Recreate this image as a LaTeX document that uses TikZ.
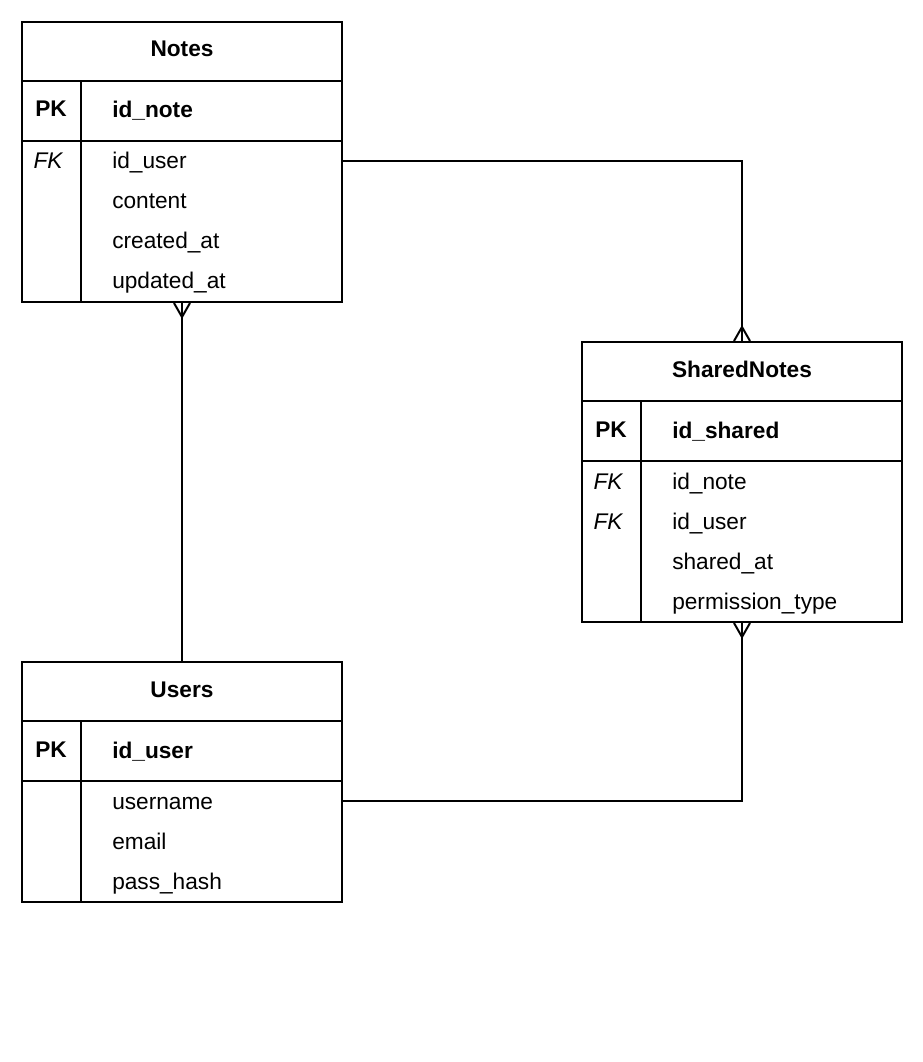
\documentclass[tikz,border=0pt]{standalone}
\usepackage{fontspec}
\setmainfont{Liberation Sans}
\usetikzlibrary{calc}
\begin{document}
\begin{tikzpicture}[x=0.75pt,y=-0.75pt,
  box/.style={draw,line width=1.5pt,rectangle,inner sep=0,anchor=north west,minimum width=240pt},
  ln/.style={line width=1.5pt},
  conn/.style={line width=1.5pt},
  txt/.style={font=\fontsize{17}{20}\selectfont,inner sep=0},
  title/.style={txt,font=\fontsize{17}{20}\selectfont\bfseries,anchor=base},
  pk/.style={txt,font=\fontsize{17}{20}\selectfont\bfseries,anchor=base},
  fk/.style={txt,font=\fontsize{17}{20}\selectfont\itshape,anchor=base},
  field/.style={txt,anchor=base west},
  pkfield/.style={txt,font=\fontsize{17}{20}\selectfont\bfseries,anchor=base west}]
\useasboundingbox (0,0) rectangle (922,1062);
% ---------- Notes ----------
\node[box,minimum height=210pt] (notes) at (21,21) {};
\draw[ln] ($(notes.north west)+(0,60)$) -- ($(notes.north east)+(0,60)$);
\draw[ln] ($(notes.north west)+(0,120)$) -- ($(notes.north east)+(0,120)$);
\draw[ln] ($(notes.north west)+(60,60)$) -- ($(notes.south west)+(60,0)$);
\node[title] (nt) at ($(notes.north)+(0,36)$) {Notes};
\node[pk] (npk) at ($(notes.north west)+(30,96)$) {PK};
\node[pkfield] (nid) at ($(notes.north west)+(91,97)$) {id\_note};
\node[fk] (nfk) at ($(notes.north west)+(27,148)$) {FK};
\node[field] (niduser) at ($(notes.north west)+(91,148)$) {id\_user};
\node[field] (ncontent) at ($(notes.north west)+(91,188)$) {content};
\node[field] (ncreated) at ($(notes.north west)+(91,228)$) {created\_at};
\node[field] (nupdated) at ($(notes.north west)+(91,268)$) {updated\_at};
% ---------- SharedNotes ----------
\node[box,minimum height=210pt] (shared) at (581,341) {};
\draw[ln] ($(shared.north west)+(0,60)$) -- ($(shared.north east)+(0,60)$);
\draw[ln] ($(shared.north west)+(0,120)$) -- ($(shared.north east)+(0,120)$);
\draw[ln] ($(shared.north west)+(60,60)$) -- ($(shared.south west)+(60,0)$);
\node[title] (st) at ($(shared.north)+(0,36)$) {SharedNotes};
\node[pk] (spk) at ($(shared.north west)+(30,96)$) {PK};
\node[pkfield] (sid) at ($(shared.north west)+(91,97)$) {id\_shared};
\node[fk] (sfk1) at ($(shared.north west)+(27,148)$) {FK};
\node[field] (sidnote) at ($(shared.north west)+(91,148)$) {id\_note};
\node[fk] (sfk2) at ($(shared.north west)+(27,188)$) {FK};
\node[field] (siduser) at ($(shared.north west)+(91,188)$) {id\_user};
\node[field] (sshared) at ($(shared.north west)+(91,228)$) {shared\_at};
\node[field] (sperm) at ($(shared.north west)+(91,268)$) {permission\_type};
% ---------- Users ----------
\node[box,minimum height=180pt] (users) at (21,661) {};
\draw[ln] ($(users.north west)+(0,60)$) -- ($(users.north east)+(0,60)$);
\draw[ln] ($(users.north west)+(0,120)$) -- ($(users.north east)+(0,120)$);
\draw[ln] ($(users.north west)+(60,60)$) -- ($(users.south west)+(60,0)$);
\node[title] (ut) at ($(users.north)+(0,36)$) {Users};
\node[pk] (upk) at ($(users.north west)+(30,96)$) {PK};
\node[pkfield] (uid) at ($(users.north west)+(91,97)$) {id\_user};
\node[field] (uname) at ($(users.north west)+(91,148)$) {username};
\node[field] (uemail) at ($(users.north west)+(91,188)$) {email};
\node[field] (upass) at ($(users.north west)+(91,228)$) {pass\_hash};
% ---------- Connectors ----------
\coordinate (c1) at ($(notes.north east)+(0,140)$);
\draw[conn] (c1) -| (shared.north);
\draw[conn] ($(shared.north)+(-8,0)$) -- ++(8,-14) -- ++(8,14);
\draw[conn] (users.north) -- (notes.south);
\draw[conn] ($(notes.south)+(-8,0)$) -- ++(8,14) -- ++(8,-14);
\coordinate (c2) at ($(users.north east)+(0,140)$);
\draw[conn] (c2) -| (shared.south);
\draw[conn] ($(shared.south)+(-8,0)$) -- ++(8,14) -- ++(8,-14);
\end{tikzpicture}
\end{document}
